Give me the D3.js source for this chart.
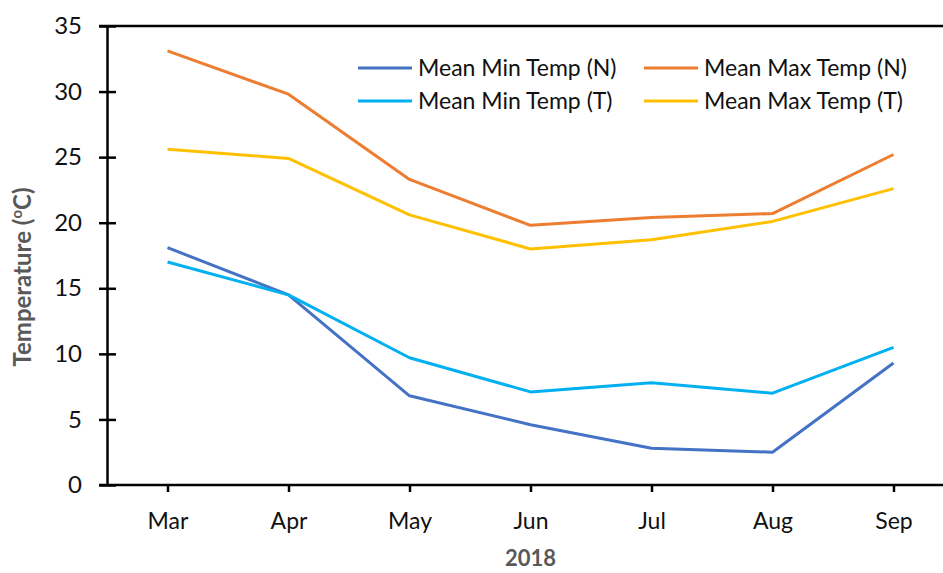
<!DOCTYPE html>
<html>
<head>
<meta charset="utf-8">
<script src="https://cdn.jsdelivr.net/npm/d3@7"></script>
<style>
  body { margin: 0; background: #fff; }
  text { font-family: Lato, "Open Sans", sans-serif; }
</style>
</head>
<body>
<div id="chart"></div>
<script>
var months = ['Mar', 'Apr', 'May', 'Jun', 'Jul', 'Aug', 'Sep'];
var yTicks = [0, 5, 10, 15, 20, 25, 30, 35];

var minN = [18.1, 14.5, 6.8, 4.6, 2.8, 2.5, 9.3];
var maxN = [33.1, 29.8, 23.3, 19.8, 20.4, 20.7, 25.2];
var minT = [17.0, 14.5, 9.7, 7.1, 7.8, 7.0, 10.5];
var maxT = [25.6, 24.9, 20.6, 18.0, 18.7, 20.1, 22.6];

var seriesNames = ['Mean Min Temp (N)', 'Mean Max Temp (N)', 'Mean Min Temp (T)', 'Mean Max Temp (T)'];
var seriesColors = ['#4472C4', '#ED7D31', '#00B0F0', '#FFC000'];
var seriesValues = [minN, maxN, minT, maxT];

var width = 943, height = 573;
var margin = {top: 26, left: 107, bottom: 88};

var svg = d3.select('#chart').append('svg')
  .attr('width', width)
  .attr('height', height);

var x = d3.scalePoint()
  .domain(months)
  .range([margin.left, margin.left + 7 * 121])
  .padding(0.5);

var y = d3.scaleLinear()
  .domain([0, 35])
  .range([height - margin.bottom, margin.top]);

// top frame line
svg.append('line')
  .attr('x1', margin.left - 8).attr('x2', width)
  .attr('y1', y(35)).attr('y2', y(35))
  .attr('stroke', '#000').attr('stroke-width', 2.5);

// y axis (ticks cross the axis)
var yAxis = svg.append('g')
  .attr('transform', 'translate(' + margin.left + ',0)')
  .call(d3.axisLeft(y).tickValues(yTicks).tickSize(8).tickPadding(17).tickSizeOuter(0));
yAxis.select('.domain').attr('stroke', '#000').attr('stroke-width', 2.5);
yAxis.selectAll('.tick line').attr('x1', 9).attr('stroke', '#000').attr('stroke-width', 2.5);
yAxis.selectAll('.tick text').attr('font-size', 24).attr('fill', '#111')
  .style('font-family', 'Lato, sans-serif');

// x axis
var xAxis = svg.append('g')
  .attr('transform', 'translate(0,' + y(0) + ')')
  .call(d3.axisBottom(x).tickSize(7).tickPadding(21).tickSizeOuter(0));
xAxis.select('.domain').attr('d', 'M' + (margin.left - 8) + ',0H' + width)
  .attr('stroke', '#000').attr('stroke-width', 2.5);
xAxis.selectAll('.tick line').attr('stroke', '#000').attr('stroke-width', 2.5);
xAxis.selectAll('.tick text').attr('font-size', 23).attr('fill', '#111')
  .style('font-family', 'Lato, sans-serif');

// lines
var line = d3.line()
  .x(function(d, i) { return x(months[i]); })
  .y(function(d) { return y(d); });

svg.selectAll('.series')
  .data(seriesValues)
  .enter().append('path')
  .attr('class', 'series')
  .attr('d', line)
  .attr('fill', 'none')
  .attr('stroke', function(d, i) { return seriesColors[i]; })
  .attr('stroke-width', 3)
  .attr('stroke-linejoin', 'round');

// legend
var legendX = [358, 644], legendY = [68, 101];
var legend = svg.selectAll('.legend')
  .data(seriesNames)
  .enter().append('g')
  .attr('class', 'legend')
  .attr('transform', function(d, i) {
    return 'translate(' + legendX[i % 2] + ',' + legendY[Math.floor(i / 2)] + ')';
  });
legend.append('line')
  .attr('x1', 0).attr('x2', 54)
  .attr('stroke', function(d, i) { return seriesColors[i]; })
  .attr('stroke-width', 3);
legend.append('text')
  .attr('x', 60)
  .attr('dy', '.35em')
  .attr('font-size', 23)
  .attr('fill', '#111')
  .text(function(d) { return d; });

// axis titles
svg.append('text')
  .attr('x', x('Jun'))
  .attr('y', 566)
  .attr('text-anchor', 'middle')
  .attr('font-size', 22)
  .attr('font-weight', 'bold')
  .attr('fill', '#595959')
  .text('2018');

var yTitle = svg.append('text')
  .attr('transform', 'translate(31,' + 277 + ') rotate(-90)')
  .attr('text-anchor', 'middle')
  .attr('font-size', 24)
  .attr('font-weight', 'bold')
  .attr('fill', '#595959');
yTitle.append('tspan').text('Temperature (');
yTitle.append('tspan').attr('font-size', 15).attr('dy', -9).text('o');
yTitle.append('tspan').attr('dy', 9).text('C)');
</script>
</body>
</html>
